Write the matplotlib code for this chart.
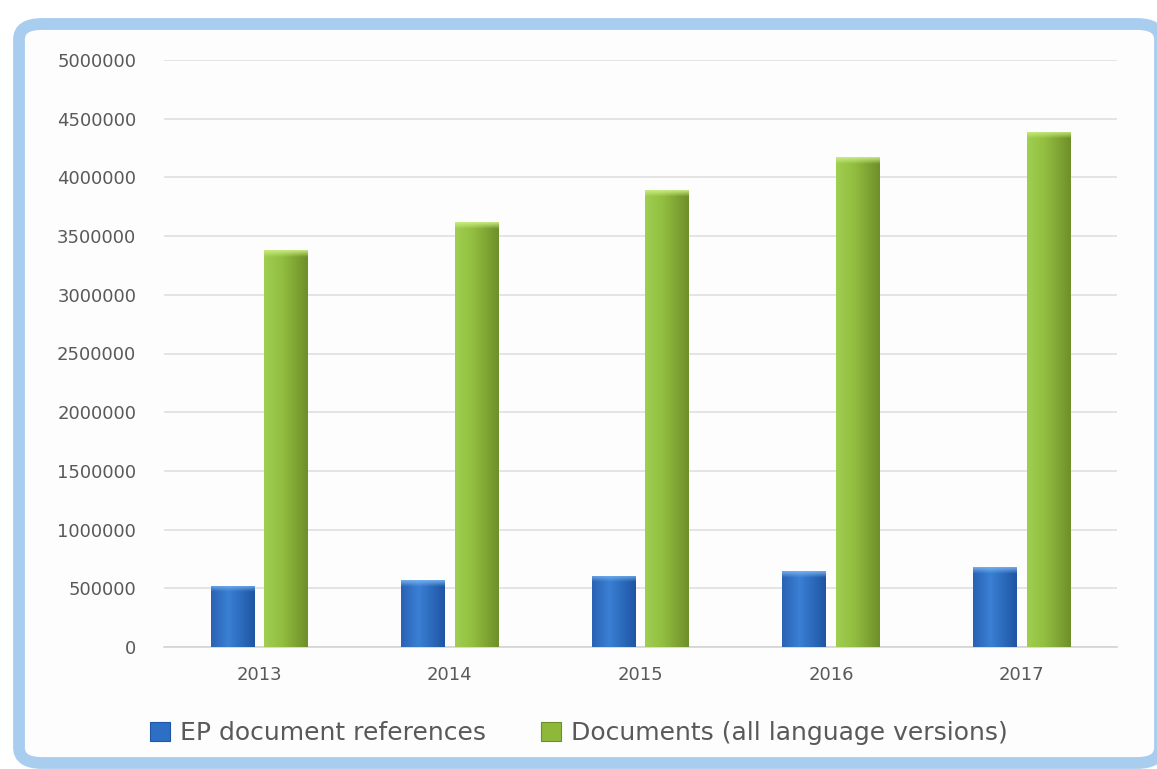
import numpy as np
import matplotlib
matplotlib.use("Agg")
import matplotlib.pyplot as plt
from matplotlib.patches import FancyBboxPatch, Rectangle
from matplotlib.colors import to_rgb

years = ['2013', '2014', '2015', '2016', '2017']
ep_refs = [520000, 570000, 605000, 647000, 680000]
documents = [3380000, 3620000, 3890000, 4170000, 4390000]
series_names = ['EP document references', 'Documents (all language versions)']
y_ticks = list(range(0, 5000001, 500000))

plt.rcParams['font.family'] = ['DejaVu Sans']

fig = plt.figure(figsize=(11.57, 7.69), dpi=100)
fig.patch.set_facecolor('white')

# outer rounded frame
frame = FancyBboxPatch((19/1157, 6/769), (1160-19)/1157, (745-6)/769,
                       boxstyle="round,pad=0,rounding_size=0.02",
                       transform=fig.transFigure, facecolor='#FDFDFD',
                       edgecolor='#A9CDEE', linewidth=8.5, zorder=-5)
fig.patches.append(frame)

ax = fig.add_axes([164/1157, 1-647/769, (1117-164)/1157, (647-60)/769])
ax.set_zorder(2)
ax.set_facecolor('none')

x = np.arange(len(years))
w = 0.23
off = 0.141

def grad_bar(bars, left_c, mid_c, right_c, cap_c, cap_units):
    for b in bars:
        x0, w_ = b.get_x(), b.get_width()
        h = b.get_height()
        N, M = 600, 60
        t = np.linspace(0, 1, M)
        L, C, R = np.array(to_rgb(left_c)), np.array(to_rgb(mid_c)), np.array(to_rgb(right_c))
        row = np.where(t[:, None] < 0.4,
                       L + (C - L) * (t[:, None] / 0.4),
                       C + (R - C) * ((t[:, None] - 0.4) / 0.6))
        img = np.repeat(row[None, :, :], N, axis=0)
        ncap = max(1, int(round(cap_units / h * N)))
        capc = np.array(to_rgb(cap_c))
        for i in range(ncap):
            a = 0.9 * (1 - i / ncap)
            img[i] = img[i] * (1 - a) + capc * a
        im = ax.imshow(img, extent=[x0, x0 + w_, 0, h], aspect='auto',
                       origin='upper', zorder=3, interpolation='bilinear')
        im.set_clip_path(b)

b1 = ax.bar(x - off, ep_refs, w, color='#2E6FC6', zorder=2, linewidth=0)
b2 = ax.bar(x + off, documents, w, color='#8DB83A', zorder=2, linewidth=0)
grad_bar(b1, '#2A62B4', '#3A80D4', '#1F55A3', '#7DB6F2', 55000)
grad_bar(b2, '#A0CE50', '#92BF40', '#6F8F2A', '#CDEE85', 55000)

ax.set_xlim(-0.5, len(years) - 0.5)
ax.set_ylim(0, 5000000)
ax.set_yticks(y_ticks)
ax.set_yticklabels([str(v) for v in y_ticks])
ax.set_xticks(x)
ax.set_xticklabels(years)
ax.tick_params(axis='both', length=0, labelsize=13, labelcolor='#595959')
ax.tick_params(axis='y', pad=20)
ax.tick_params(axis='x', pad=14)
ax.yaxis.grid(True, color='#DDDDDD', linewidth=1.1, zorder=0)
ax.set_axisbelow(True)
for s in ['top', 'right', 'left']:
    ax.spines[s].set_visible(False)
ax.spines['bottom'].set_color('#D4D4D4')
ax.spines['bottom'].set_linewidth(1.2)

h1 = Rectangle((0, 0), 1, 1, facecolor='#2E6FC6', edgecolor='#1F56A6', linewidth=0.8)
h2 = Rectangle((0, 0), 1, 1, facecolor='#8DB83A', edgecolor='#6F8F2A', linewidth=0.8)
leg = fig.legend([h1, h2], series_names, loc='center', bbox_to_anchor=(579/1157, 1-733/769),
                 ncol=2, frameon=False, fontsize=18, handlelength=0.8, handleheight=0.8,
                 handletextpad=0.4, columnspacing=2.2, labelcolor='#595959')

fig.savefig('out.png', dpi=100, facecolor='white')
